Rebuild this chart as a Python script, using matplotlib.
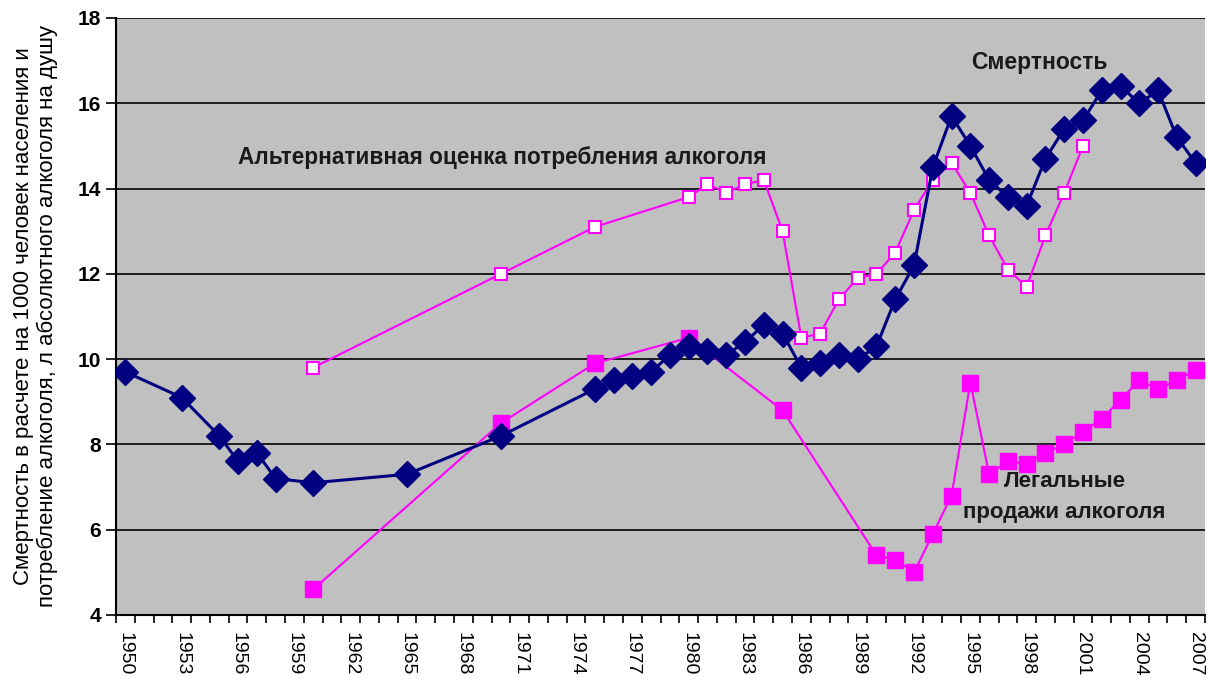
import matplotlib
matplotlib.use("Agg")
import matplotlib.pyplot as plt
import numpy as np

plt.rcParams['font.family'] = ['Liberation Sans', 'DejaVu Sans']

# смертность (на 1000 человек)
mort_years = [1950, 1953, 1955, 1956, 1957, 1958, 1960, 1965, 1970, 1975, 1976, 1977, 1978,
              1979, 1980, 1981, 1982, 1983, 1984, 1985, 1986, 1987, 1988, 1989, 1990, 1991,
              1992, 1993, 1994, 1995, 1996, 1997, 1998, 1999, 2000, 2001, 2002, 2003, 2004,
              2005, 2006, 2007]
mort_vals = [9.7, 9.1, 8.2, 7.6, 7.8, 7.2, 7.1, 7.3, 8.2, 9.3, 9.5, 9.6, 9.7,
             10.1, 10.3, 10.2, 10.1, 10.4, 10.8, 10.6, 9.8, 9.9, 10.1, 10.0, 10.3, 11.4,
             12.2, 14.5, 15.7, 15.0, 14.2, 13.8, 13.6, 14.7, 15.4, 15.6, 16.3, 16.4, 16.0,
             16.3, 15.2, 14.6]

# альтернативная оценка потребления
alt_years = [1960, 1970, 1975, 1980, 1981, 1982, 1983, 1984, 1985, 1986, 1987, 1988, 1989,
             1990, 1991, 1992, 1993, 1994, 1995, 1996, 1997, 1998, 1999, 2000, 2001]
alt_vals = [9.8, 12.0, 13.1, 13.8, 14.1, 13.9, 14.1, 14.2, 13.0, 10.5, 10.6, 11.4, 11.9,
            12.0, 12.5, 13.5, 14.2, 14.6, 13.9, 12.9, 12.1, 11.7, 12.9, 13.9, 15.0]

# легальные продажи
legal_years = [1960, 1970, 1975, 1980, 1985, 1990, 1991, 1992, 1993, 1994, 1995, 1996, 1997,
               1998, 1999, 2000, 2001, 2002, 2003, 2004, 2005, 2006, 2007]
legal_vals = [4.6, 8.5, 9.9, 10.5, 8.8, 5.4, 5.3, 5.0, 5.9, 6.8, 9.45, 7.3, 7.6,
              7.55, 7.8, 8.0, 8.3, 8.6, 9.05, 9.5, 9.3, 9.5, 9.75]

label_years = list(range(1950, 2008, 3))

fig = plt.figure(figsize=(12.1, 6.79), dpi=100)
ax = fig.add_axes([0.0959, 0.0943, 0.9, 0.8792])
ax.set_facecolor('#C0C0C0')

ax.plot(legal_years, legal_vals, color='#FF00FF', lw=1.5, marker='s', ms=12,
        mfc='#FF00FF', mec='#FF00FF', zorder=3)
ax.plot(alt_years, alt_vals, color='#FF00FF', lw=1.5, marker='s', ms=8,
        mfc='white', mec='#FF00FF', mew=1.5, zorder=4)
ax.plot(mort_years, mort_vals, color='#000080', lw=2.2, marker='D', ms=13,
        mfc='#000080', mec='#000080', zorder=5)

ax.set_xlim(1949.5, 2007.5)
ax.set_ylim(4, 18)
ax.set_yticks(np.arange(4, 19, 2))
ax.set_yticklabels([str(v) for v in range(4, 19, 2)], fontweight='bold', fontsize=15)
ax.set_xticks(label_years)
ax.set_xticklabels([str(y) for y in label_years], rotation=270, fontsize=14)
ax.set_xticks(np.arange(1949.5, 2008, 1), minor=True)
ax.tick_params(axis='x', which='major', length=0, pad=12)
ax.tick_params(axis='x', which='minor', length=6, width=1.2)
ax.tick_params(axis='y', length=7, width=1.2, pad=4)
ax.yaxis.grid(True, color='black', lw=1.2)
ax.set_axisbelow(True)
for s in ['top', 'right']:
    ax.spines[s].set_visible(False)
for s in ['left', 'bottom']:
    ax.spines[s].set_linewidth(1.5)

ax.set_ylabel('Смертность в расчете на 1000 человек населения и\n'
              'потребление алкоголя, л абсолютного алкоголя на душу',
              fontsize=16, labelpad=14, linespacing=1.15)

ax.text(1998.7, 16.95, 'Смертность', fontsize=16.5, fontweight='bold',
        color='#1a1a1a', ha='center', va='center')
ax.text(1956.0, 14.72, 'Альтернативная оценка потребления алкоголя', fontsize=16.3,
        fontweight='bold', color='#1a1a1a', ha='left', va='center')
ax.text(1996.8, 7.13, 'Легальные', fontsize=16, fontweight='bold',
        color='#1a1a1a', ha='left', va='center')
ax.text(1994.6, 6.4, 'продажи алкоголя', fontsize=16, fontweight='bold',
        color='#1a1a1a', ha='left', va='center')

fig.savefig('out.png', dpi=100)
